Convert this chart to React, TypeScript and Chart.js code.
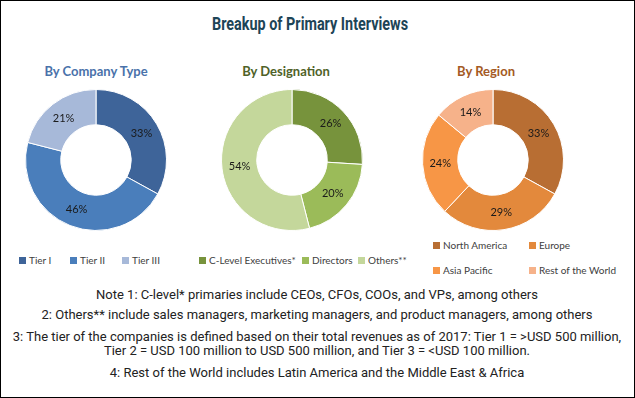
import React, { useEffect, useRef } from "react";
import { Chart, registerables } from "chart.js";

Chart.register(...registerables);

const titleText = "Breakup of Primary Interviews";

const companyTitle = "By Company Type";
const companyLabels = ["Tier I", "Tier II", "Tier III"];
const companyValues = [33, 46, 21];
const companyColors = ["#3e6499", "#4a7ebb", "#a7b9d9"];

const designationTitle = "By Designation";
const designationLabels = ["C-Level Executives*", "Directors", "Others**"];
const designationValues = [26, 20, 54];
const designationColors = ["#77933c", "#9bbb59", "#c4d79b"];

const regionTitle = "By Region";
const regionLabels = ["North America", "Europe", "Asia Pacific", "Rest of the World"];
const regionValues = [33, 29, 24, 14];
const regionColors = ["#b86e33", "#e3893c", "#f79646", "#f6b28a"];

const notes = [
  "Note 1: C-level* primaries include CEOs, CFOs, COOs, and VPs, among others",
  "2: Others** include sales managers, marketing managers, and product managers, among others",
  "3: The tier of the companies is defined based on their total revenues as of 2017: Tier 1 = >USD 500 million,",
  "Tier 2 = USD 100 million to USD 500 million, and Tier 3 = <USD 100 million.",
  "4: Rest of the World includes Latin America and the Middle East & Africa",
];

const labelFont = "Lato, 'Open Sans', sans-serif";
const narrowFont = "'Liberation Sans Narrow', 'Roboto', sans-serif";

const pctPlugin = {
  id: "pctLabels",
  afterDatasetsDraw(chart: any) {
    const ctx = chart.ctx;
    const meta = chart.getDatasetMeta(0);
    const data = chart.data.datasets[0].data;
    ctx.save();
    ctx.font = "11px " + labelFont;
    ctx.fillStyle = "#1a1a1a";
    ctx.textAlign = "center";
    ctx.textBaseline = "middle";
    meta.data.forEach((arc: any, i: number) => {
      const p = arc.tooltipPosition();
      ctx.fillText(data[i] + "%", p.x, p.y);
    });
    ctx.restore();
  },
};

function Donut(props: { labels: string[]; values: number[]; colors: string[]; left: number; top: number; size: number }) {
  const ref = useRef<HTMLCanvasElement | null>(null);
  useEffect(() => {
    if (!ref.current) return;
    const chart = new Chart(ref.current, {
      type: "doughnut",
      data: {
        labels: props.labels,
        datasets: [
          {
            data: props.values,
            backgroundColor: props.colors,
            borderColor: "#ffffff",
            borderWidth: 1,
          },
        ],
      },
      options: {
        responsive: false,
        animation: false,
        cutout: "50%",
        layout: { padding: 0 },
        plugins: { legend: { display: false }, tooltip: { enabled: false } },
      },
      plugins: [pctPlugin],
    });
    return () => chart.destroy();
  }, []);
  return (
    <canvas
      ref={ref}
      width={props.size}
      height={props.size}
      style={{ position: "absolute", left: props.left, top: props.top, width: props.size, height: props.size }}
    />
  );
}

function Legend(props: { items: { label: string; color: string; x: number; y: number }[] }) {
  return (
    <>
      {props.items.map((it, i) => (
        <div
          key={i}
          style={{
            position: "absolute",
            left: it.x,
            top: it.y - 7,
            height: 14,
            lineHeight: "14px",
            whiteSpace: "nowrap",
            font: "10px " + labelFont,
            color: "#404040",
          }}
        >
          <span
            style={{
              display: "inline-block",
              width: 7,
              height: 7,
              background: it.color,
              marginRight: 3,
              verticalAlign: "0px",
            }}
          />
          {it.label}
        </div>
      ))}
    </>
  );
}

function CenterText(props: { text: string; cx: number; cy: number; font: string; color: string; scaleX?: number }) {
  return (
    <div
      style={{
        position: "absolute",
        left: props.cx - 400,
        width: 800,
        top: props.cy - 10,
        height: 20,
        lineHeight: "20px",
        textAlign: "center",
        whiteSpace: "nowrap",
        font: props.font,
        color: props.color,
        transform: props.scaleX ? `scaleX(${props.scaleX})` : undefined,
      }}
    >
      {props.text}
    </div>
  );
}

export default function App() {
  useEffect(() => {
    document.body.style.margin = "0";
  }, []);
  const size = 142;
  const companyLegend = companyLabels.map((l, i) => ({ label: l, color: companyColors[i], x: [19, 70, 122][i], y: 261 }));
  const designationLegend = designationLabels.map((l, i) => ({ label: l, color: designationColors[i], x: [199, 302, 358][i], y: 261 }));
  const regionLegend = regionLabels.map((l, i) => ({
    label: l,
    color: regionColors[i],
    x: [433, 529, 433, 529][i],
    y: [246, 246, 271, 271][i],
  }));
  const noteY = [297, 317, 339, 353, 375];
  return (
    <div style={{ position: "relative", width: 635, height: 398, background: "#fff", overflow: "hidden" }}>
      <CenterText text={titleText} cx={310} cy={23} font={"bold 18px " + narrowFont} color="#1d4456" scaleX={0.8} />
      <CenterText text={companyTitle} cx={96} cy={73} font={"bold 13px " + labelFont} color="#4a72aa" />
      <CenterText text={designationTitle} cx={286} cy={73} font={"bold 13px " + labelFont} color="#4f6228" />
      <CenterText text={regionTitle} cx={486} cy={73} font={"bold 13px " + labelFont} color="#a45a24" />
      <Donut labels={companyLabels} values={companyValues} colors={companyColors} left={96 - size / 2} top={160 - size / 2} size={size} />
      <Donut labels={designationLabels} values={designationValues} colors={designationColors} left={292 - size / 2} top={160 - size / 2} size={size} />
      <Donut labels={regionLabels} values={regionValues} colors={regionColors} left={493 - size / 2} top={160 - size / 2} size={size} />
      <Legend items={companyLegend} />
      <Legend items={designationLegend} />
      <Legend items={regionLegend} />
      {notes.map((n, i) => (
        <CenterText key={i} text={n} cx={317} cy={noteY[i]} font={"13px " + narrowFont} color="#222" />
      ))}
      <div
        style={{
          position: "absolute",
          left: 0,
          top: 0,
          width: 635,
          height: 398,
          boxSizing: "border-box",
          border: "1px solid #000",
          pointerEvents: "none",
        }}
      />
    </div>
  );
}
